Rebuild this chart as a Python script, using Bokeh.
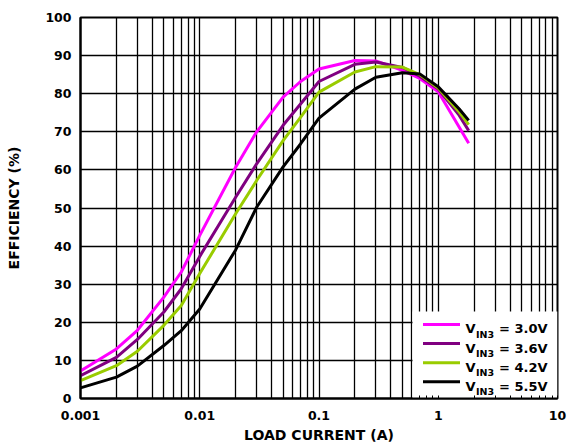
import math

from bokeh.plotting import figure
from bokeh.models import Range1d, FixedTicker, CustomJSTickFormatter, BoxAnnotation, Label
from bokeh.embed import file_html
from bokeh.resources import INLINE

# Efficiency vs. load current for four input voltages
load_current = [0.001, 0.002, 0.003, 0.005, 0.007, 0.01, 0.02, 0.03, 0.05, 0.07,
                0.1, 0.2, 0.3, 0.5, 0.7, 1.0, 1.5, 1.8]
eff_3v0 = [7.2, 13.0, 17.9, 26.6, 33.2, 42.8, 60.7, 70.0, 79.1, 83.2,
           86.5, 88.7, 88.6, 86.1, 84.0, 80.5, 71.2, 67.0]
eff_3v6 = [6.0, 10.8, 15.5, 22.7, 28.8, 37.3, 52.8, 61.6, 71.7, 77.3,
           83.2, 87.7, 88.3, 86.9, 84.6, 81.2, 74.3, 70.3]
eff_4v2 = [4.7, 8.6, 12.4, 19.2, 24.4, 32.8, 48.5, 57.2, 67.7, 73.8,
           80.4, 85.7, 87.1, 87.0, 85.0, 81.5, 75.2, 71.9]
eff_5v5 = [2.8, 5.6, 8.5, 13.9, 17.8, 23.5, 39.0, 50.2, 60.8, 66.8,
           73.6, 81.2, 84.3, 85.5, 85.2, 81.8, 76.0, 73.0]

series_values = [eff_3v0, eff_3v6, eff_4v2, eff_5v5]
series_labels = ["= 3.0V", "= 3.6V", "= 4.2V", "= 5.5V"]
series_colors = ["#FF00FF", "#800080", "#99CC00", "#000000"]

x_decades = [0.001, 0.01, 0.1, 1, 10]
y_ticks = list(range(0, 101, 10))

FONT = "DejaVu Sans"

# frame geometry (pixels)
W, H = 570, 448
FL, FR, FT, FB = 80, 557, 17, 398
X0, X1, Y0, Y1 = 0.001, 10.0, 0.0, 100.0


def px_x(px):
    span = math.log10(X1) - math.log10(X0)
    return 10 ** (math.log10(X0) + (px - FL) / (FR - FL) * span)


def px_y(py):
    return Y0 + (FB - py) / (FB - FT) * (Y1 - Y0)


p = figure(width=W, height=H, x_axis_type="log",
           x_range=Range1d(X0, X1), y_range=Range1d(Y0, Y1),
           output_backend="svg", toolbar_location=None,
           min_border_left=FL, min_border_right=W - FR,
           min_border_top=FT, min_border_bottom=H - FB,
           background_fill_color="white", border_fill_color="white")

minor_x = [m * d for d in x_decades[:-1] for m in range(2, 10)]
xticker = FixedTicker(ticks=x_decades, minor_ticks=minor_x)
yticker = FixedTicker(ticks=y_ticks)
p.xaxis.ticker = xticker
p.yaxis.ticker = yticker
p.xgrid.ticker = xticker
p.ygrid.ticker = yticker
p.xaxis.formatter = CustomJSTickFormatter(code="return String(tick);")

for g in (p.xgrid, p.ygrid):
    g.grid_line_color = "black"
    g.grid_line_width = 1.3
p.xgrid.minor_grid_line_color = "black"
p.xgrid.minor_grid_line_width = 1.3

p.outline_line_color = "black"
p.outline_line_width = 2

for ax in (p.xaxis, p.yaxis):
    ax.axis_line_color = "black"
    ax.axis_line_width = 2
    ax.major_label_text_font = FONT
    ax.major_label_text_font_style = "bold"
    ax.major_label_text_font_size = "12.5px"
    ax.major_label_text_color = "black"
    ax.axis_label_text_font = FONT
    ax.axis_label_text_font_style = "bold"
    ax.axis_label_text_font_size = "14px"
    ax.axis_label_text_color = "black"

p.xaxis.axis_label = "LOAD CURRENT (A)"
p.yaxis.axis_label = "EFFICIENCY (%)"

# short inward ticks along the bottom edge, kept above the legend panel
p.xaxis.major_tick_in = 3
p.xaxis.major_tick_out = 0
p.xaxis.minor_tick_in = 3
p.xaxis.minor_tick_out = 0
p.xaxis.major_tick_line_color = "black"
p.xaxis.minor_tick_line_color = "black"
p.xaxis.major_label_standoff = 12
p.xaxis.axis_label_standoff = 4
p.xaxis.level = "overlay"

p.yaxis.major_tick_in = 0
p.yaxis.major_tick_out = 0
p.yaxis.minor_tick_in = 0
p.yaxis.minor_tick_out = 0
p.yaxis.major_label_standoff = 9
p.yaxis.axis_label_standoff = 20

# efficiency curves
for vals, color in zip(series_values, series_colors):
    p.line(load_current, vals, line_color=color, line_width=3, line_join="round")

# legend panel
p.add_layout(BoxAnnotation(left=px_x(412), right=X1, bottom=Y0, top=px_y(311),
                           fill_color="white", fill_alpha=1.0, line_alpha=0.0,
                           level="annotation"))

row0, row_step = 324.0, 19.1
for i, (lab, color) in enumerate(zip(series_labels, series_colors)):
    ry = row0 + i * row_step
    p.line([px_x(422.5), px_x(459.5)], [px_y(ry), px_y(ry)],
           line_color=color, line_width=3, level="overlay")
    p.add_layout(Label(x=px_x(465), y=px_y(ry + 4.4), text="V",
                       text_font=FONT, text_font_style="bold", text_font_size="13px",
                       text_color="black", text_baseline="alphabetic", level="overlay"))
    p.add_layout(Label(x=px_x(475.5), y=px_y(ry + 10), text="IN3",
                       text_font=FONT, text_font_style="bold", text_font_size="9.5px",
                       text_color="black", text_baseline="alphabetic", level="overlay"))
    p.add_layout(Label(x=px_x(498.5), y=px_y(ry + 4.4), text=lab,
                       text_font=FONT, text_font_style="bold", text_font_size="13px",
                       text_color="black", text_baseline="alphabetic", level="overlay"))

open("out.html", "w").write(file_html(p, INLINE))
